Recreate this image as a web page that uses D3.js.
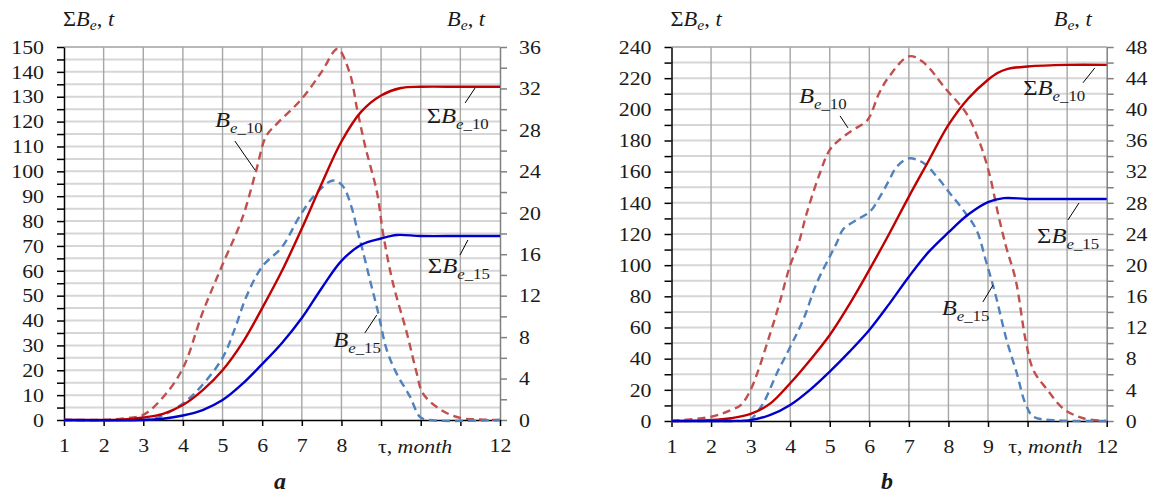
<!DOCTYPE html>
<html>
<head>
<meta charset="utf-8">
<script src="https://cdn.jsdelivr.net/npm/d3@7"></script>
<style>
body { margin: 0; background: #fff; }
text { font-family: "Liberation Serif", "Times New Roman", serif; fill: #1a1a1a; }
</style>
</head>
<body>
<svg id="chart" width="1150" height="495"></svg>
<script>
// ---- panel a : sums on the left axis (t), monthly values on the right axis (t)
var monthsSumA10 = [1, 2, 2.5, 3, 3.5, 4, 4.5, 5, 5.5, 6, 6.5, 7, 7.5, 8, 8.5, 9, 9.5, 10, 11, 12];
var sumA10 = [0, 0, 0.2, 1, 2.5, 6, 12, 20, 31, 45, 60, 77, 95, 112, 124, 130.5, 133.5, 134, 134, 134];
var monthsSumA15 = [1, 3, 3.5, 4, 4.5, 5, 5.5, 6, 6.5, 7, 7.5, 8, 8.5, 9, 9.4, 10, 11, 12];
var sumA15 = [0, 0, 0.5, 1.8, 4, 8, 14.5, 22.5, 31, 41, 53, 64, 70.5, 73, 74.4, 74, 74, 74];
var monthsBeA10 = [1, 2, 2.5, 3, 3.5, 4, 4.5, 5, 5.5, 5.85, 6.1, 6.4, 7, 7.5, 7.9, 8.2, 8.4, 8.6, 8.9, 9.05, 9.3, 9.65, 9.9, 10.05, 10.5, 11, 11.5, 12];
var beA10 = [0, 0, 0.15, 0.5, 2.2, 5, 10.4, 15, 19.5, 24.1, 27.4, 28.7, 31, 33.6, 35.8, 33.6, 29.9, 26.4, 21.9, 18, 13.2, 8.4, 4.5, 2.6, 1, 0.2, 0.05, 0];
var monthsBeA15 = [1, 2.7, 3, 3.35, 4, 4.45, 5, 5.3, 5.6, 6, 6.5, 6.95, 7.3, 7.7, 7.85, 8.05, 8.25, 8.42, 8.5, 8.72, 8.93, 9.14, 9.39, 9.73, 9.98, 10.2, 12];
var beA15 = [0, 0, 0, 0.2, 1.6, 3.2, 6, 8.7, 11.9, 14.8, 16.7, 19.7, 21.6, 23, 23.1, 22.5, 20.6, 18, 16.9, 13.5, 10.3, 6.8, 4.5, 2.25, 0.3, 0, 0];

// ---- panel b
var monthsSumB10 = [1, 2, 2.5, 3, 3.5, 4, 4.5, 5, 5.5, 6, 6.5, 7, 7.5, 8, 8.5, 9, 9.25, 9.5, 10, 11, 12];
var sumB10 = [0, 0.6, 1.8, 4.5, 11.3, 24.2, 39, 55.2, 75, 97, 120, 144, 167, 190, 207, 219, 223.5, 226, 227.5, 228.5, 228.5];
var monthsSumB15 = [1, 2.5, 3, 3.5, 4, 4.5, 5, 5.5, 6, 6.5, 7, 7.5, 8, 8.5, 9, 9.4, 10, 11, 12];
var sumB15 = [0, 0, 0.6, 3.9, 10.3, 20, 31.7, 44.5, 58.4, 75, 92.6, 108.5, 121, 132.5, 140.5, 143, 142.5, 142.5, 142.5];
var monthsBeB10 = [1, 2, 2.5, 2.75, 3, 3.5, 3.75, 4, 4.2, 4.42, 4.75, 5, 5.25, 5.6, 5.95, 6.25, 6.5, 7, 7.35, 7.95, 8.45, 8.8, 9.05, 9.25, 9.45, 9.7, 9.95, 10.15, 10.5, 10.9, 11.4, 12];
var beB10 = [0, 0.55, 1.4, 2.05, 4, 11.3, 15.5, 20, 22.6, 26.7, 31.8, 34.8, 36.1, 37.4, 38.6, 42.1, 44.2, 46.8, 46.1, 42.5, 39.5, 35.6, 31.4, 26.7, 22.5, 18.1, 10.4, 6.5, 4, 1.6, 0.35, 0];
var monthsBeB15 = [1, 2.6, 2.85, 3, 3.32, 3.66, 4, 4.33, 4.67, 5, 5.17, 5.34, 5.68, 6.02, 6.27, 6.5, 6.69, 7, 7.37, 7.7, 8.04, 8.37, 8.71, 8.95, 9.18, 9.47, 9.73, 9.94, 10.15, 10.7, 12];
var beB15 = [0, 0, 0, 0.2, 2.3, 6.1, 9.5, 13, 17.7, 21.1, 22.8, 24.6, 25.8, 26.9, 28.8, 30.9, 32.6, 33.7, 33.1, 31.4, 29.2, 27.1, 24.5, 20.5, 16.4, 10.4, 6.1, 2.3, 0.55, 0.1, 0];

// tick labels
var xLabelsA = [1, 2, 3, 4, 5, 6, 7, 8, 12];
var xLabelsB = [1, 2, 3, 4, 5, 6, 7, 8, 9, 12];

var colRed = "#c00000", colBlue = "#0000cc", colRedDash = "#c0504d", colBlueDash = "#4f81bd";
var sx = 1.12; // text in the picture is a bit wider than plain Times

var svg = d3.select("#chart");

var panels = [
  {
    name: "a", left: 64, right: 500, top: 47, bottom: 420,
    maxL: 150, labL: 10, minorL: 5, maxR: 36, labR: 4, minorR: 2,
    xLabels: xLabelsA, monthX: 8.92,
    series: [
      {m: monthsBeA10, v: beA10, axis: "R", color: colRedDash, dash: true},
      {m: monthsBeA15, v: beA15, axis: "R", color: colBlueDash, dash: true},
      {m: monthsSumA10, v: sumA10, axis: "L", color: colRed},
      {m: monthsSumA15, v: sumA15, axis: "L", color: colBlue}
    ],
    notes: [
      {t: "B", sub: "e_10", sigma: false, m: 4.81, v: 117.8, line: [5.31, 112.2, 5.82, 100.5]},
      {t: "B", sub: "e_10", sigma: true, m: 10.15, v: 119.4, line: [11.12, 127.5, 11.37, 133.5]},
      {t: "B", sub: "e_15", sigma: true, m: 10.18, v: 59.1, line: [10.99, 66.3, 11.19, 72.4]},
      {t: "B", sub: "e_15", sigma: false, m: 7.79, v: 29.4, line: [8.59, 35, 8.89, 42.2]}
    ]
  },
  {
    name: "b", left: 671.5, right: 1106.7, top: 47, bottom: 421,
    maxL: 240, labL: 20, minorL: 10, maxR: 48, labR: 4, minorR: 2,
    xLabels: xLabelsB, monthX: 9.51,
    series: [
      {m: monthsBeB10, v: beB10, axis: "R", color: colRedDash, dash: true},
      {m: monthsBeB15, v: beB15, axis: "R", color: colBlueDash, dash: true},
      {m: monthsSumB10, v: sumB10, axis: "L", color: colRed},
      {m: monthsSumB15, v: sumB15, axis: "L", color: colBlue}
    ],
    notes: [
      {t: "B", sub: "e_10", sigma: false, m: 4.22, v: 204.1, line: [5.26, 195.8, 5.46, 188.1]},
      {t: "B", sub: "e_10", sigma: true, m: 9.89, v: 209.2, line: [11.4, 217, 11.7, 226.6]},
      {t: "B", sub: "e_15", sigma: true, m: 10.24, v: 114.2, line: [11.02, 129, 11.3, 139.9]},
      {t: "B", sub: "e_15", sigma: false, m: 7.83, v: 68, line: [8.87, 76.4, 9.13, 87.3]}
    ]
  }
];

function stretchTicks(sel) {
  sel.selectAll(".tick text").attr("transform", "scale(" + sx + ",1)");
}

panels.forEach(function(p) {
  var x = d3.scaleLinear().domain([1, 12]).range([p.left, p.right]);
  var yL = d3.scaleLinear().domain([0, p.maxL]).range([p.bottom, p.top]);
  var yR = d3.scaleLinear().domain([0, p.maxR]).range([p.bottom, p.top]);
  var g = svg.append("g");

  // grid
  g.append("g").selectAll("line").data(d3.range(p.minorL, p.maxL, p.minorL)).enter().append("line")
    .attr("x1", p.left).attr("x2", p.right)
    .attr("y1", function(d) { return yL(d); }).attr("y2", function(d) { return yL(d); })
    .attr("stroke", "#d6d6d6").attr("stroke-width", 2);
  g.append("line").attr("x1", p.left).attr("x2", p.right).attr("y1", yL(p.maxL)).attr("y2", yL(p.maxL))
    .attr("stroke", "#a0a0a0").attr("stroke-width", 1.5);
  g.append("g").selectAll("line").data(d3.range(2, 12)).enter().append("line")
    .attr("x1", function(d) { return x(d); }).attr("x2", function(d) { return x(d); })
    .attr("y1", p.top).attr("y2", p.bottom)
    .attr("stroke", "#a6a6a6").attr("stroke-width", 1.4);

  // left axis
  var aL = g.append("g").attr("transform", "translate(" + p.left + ",0)")
    .call(d3.axisLeft(yL).tickValues(d3.range(0, p.maxL + 1, p.minorL)).tickSize(7).tickSizeOuter(0)
      .tickPadding(20 / sx - 7)
      .tickFormat(function(d) { return d % p.labL === 0 ? d : ""; }));
  aL.selectAll("path, line").attr("stroke", "#000").attr("stroke-width", 1.5);
  aL.selectAll("text").attr("font-size", 19.5).attr("font-family", null).attr("fill", "#1a1a1a");
  stretchTicks(aL);

  // right axis
  var aR = g.append("g").attr("transform", "translate(" + p.right + ",0)")
    .call(d3.axisRight(yR).tickValues(d3.range(0, p.maxR + 1, p.minorR)).tickSize(7).tickSizeOuter(0)
      .tickPadding(19 / sx - 7)
      .tickFormat(function(d) { return d % p.labR === 0 ? d : ""; }));
  aR.selectAll("path, line").attr("stroke", "#808080").attr("stroke-width", 1.5);
  aR.selectAll("text").attr("font-size", 19.5).attr("font-family", null).attr("fill", "#1a1a1a");
  stretchTicks(aR);

  // bottom axis
  var aB = g.append("g").attr("transform", "translate(0," + p.bottom + ")")
    .call(d3.axisBottom(x).tickValues(d3.range(1, 13)).tickSize(6).tickSizeOuter(0).tickPadding(12)
      .tickFormat(function(d) { return p.xLabels.indexOf(d) >= 0 ? d : ""; }));
  aB.selectAll("path, line").attr("stroke", "#000").attr("stroke-width", 1.5);
  aB.selectAll("text").attr("font-size", 19.5).attr("font-family", null).attr("fill", "#1a1a1a");
  stretchTicks(aB);

  // curves
  p.series.forEach(function(s) {
    var y = s.axis === "L" ? yL : yR;
    var pts = s.m.map(function(m, i) { return [m, s.v[i]]; });
    g.append("path")
      .datum(pts)
      .attr("fill", "none")
      .attr("stroke", s.color)
      .attr("stroke-width", 2.4)
      .attr("stroke-dasharray", s.dash ? "8,5" : null)
      .attr("d", d3.line().curve(d3.curveCatmullRom.alpha(0.5))
        .x(function(d) { return x(d[0]); })
        .y(function(d) { return y(d[1]); }));
  });

  // axis titles
  var tl = g.append("text").attr("transform", "translate(" + (p.left - 1) + ",26) scale(" + sx + ",1)")
    .attr("font-size", 20);
  tl.append("tspan").text("\u03A3");
  tl.append("tspan").attr("font-style", "italic").text("B");
  tl.append("tspan").attr("font-style", "italic").attr("font-size", 14).attr("dy", 4).text("e");
  tl.append("tspan").attr("dy", -4).text(", ");
  tl.append("tspan").attr("font-style", "italic").text("t");

  var tr = g.append("text").attr("transform", "translate(" + (p.right - 53) + ",26) scale(" + sx + ",1)")
    .attr("font-size", 20);
  tr.append("tspan").attr("font-style", "italic").text("B");
  tr.append("tspan").attr("font-style", "italic").attr("font-size", 14).attr("dy", 4).text("e");
  tr.append("tspan").attr("dy", -4).text(", ");
  tr.append("tspan").attr("font-style", "italic").text("t");

  // x title
  var tx = g.append("text").attr("transform", "translate(" + x(p.monthX) + ",453) scale(" + sx + ",1)")
    .attr("font-size", 19.5);
  tx.append("tspan").text("\u03C4, ");
  tx.append("tspan").attr("font-style", "italic").text("month");

  // curve labels
  p.notes.forEach(function(n) {
    var t = g.append("text")
      .attr("transform", "translate(" + x(n.m) + "," + yL(n.v) + ") scale(" + sx + ",1)")
      .attr("font-size", 22);
    if (n.sigma) t.append("tspan").text("\u03A3");
    t.append("tspan").attr("font-style", "italic").text(n.t);
    t.append("tspan").attr("font-style", "italic").attr("font-size", 15).attr("dy", 6).text(n.sub.charAt(0));
    t.append("tspan").attr("font-size", 15).text(n.sub.slice(1));
    g.append("line")
      .attr("x1", x(n.line[0])).attr("y1", yL(n.line[1]))
      .attr("x2", x(n.line[2])).attr("y2", yL(n.line[3]))
      .attr("stroke", "#000").attr("stroke-width", 1);
  });

  // panel letter
  g.append("text").attr("x", (p.left + p.right) / 2 - 2).attr("y", 489)
    .attr("text-anchor", "middle").attr("font-size", 24)
    .attr("font-weight", "bold").attr("font-style", "italic").text(p.name);
});
</script>
</body>
</html>
